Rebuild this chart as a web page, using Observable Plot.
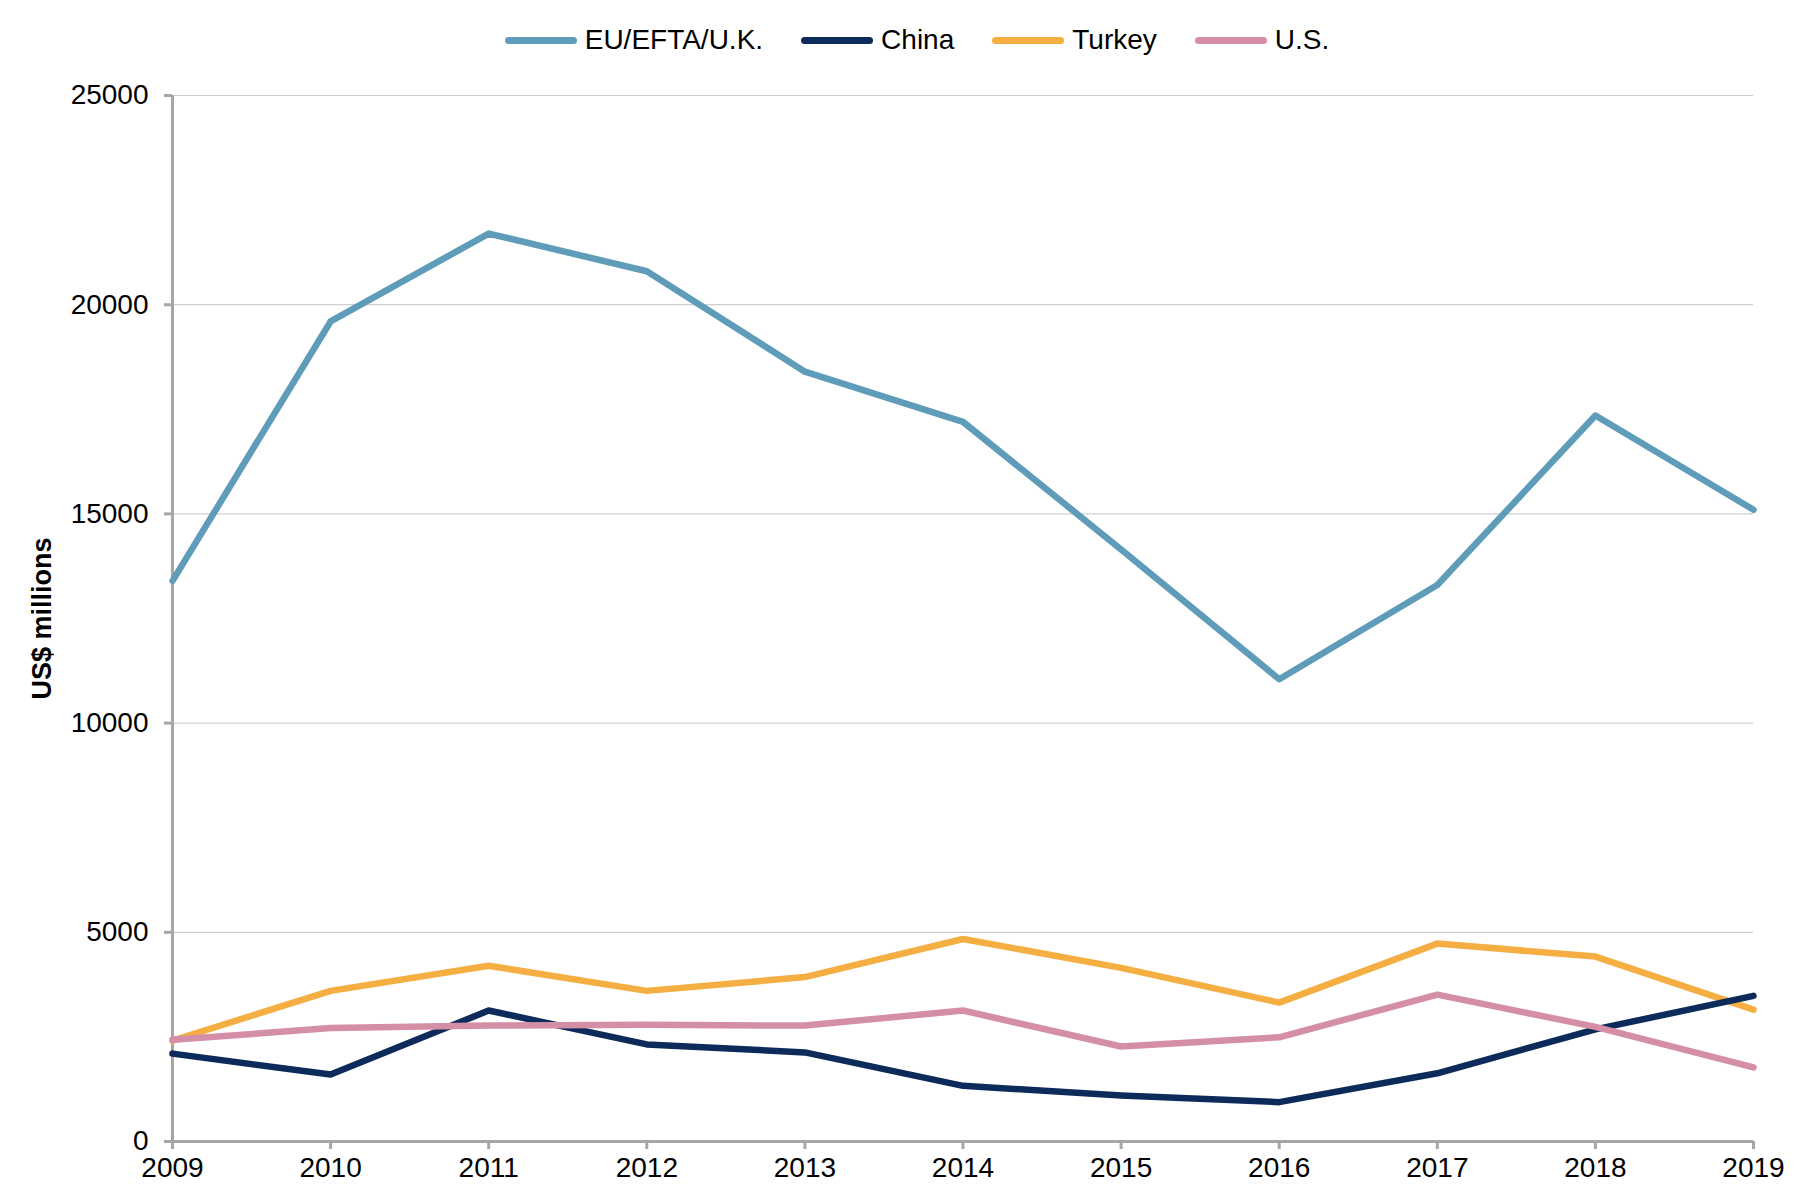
<!DOCTYPE html>
<html>
<head>
<meta charset="utf-8">
<script src="https://cdn.jsdelivr.net/npm/d3@7"></script>
<script src="https://cdn.jsdelivr.net/npm/@observablehq/plot@0.6"></script>
<style>
  html, body { margin: 0; padding: 0; background: #fff; }
  body { width: 1814px; font-family: "Liberation Sans", Arial, sans-serif; }
  #legend { height: 80px; display: flex; justify-content: center; align-items: center; padding-left: 20px; box-sizing: border-box; font-size: 28px; color: #000; }
  .item { display: flex; align-items: center; margin: 0 19px; }
  .sw { width: 72px; height: 7px; border-radius: 3.5px; margin-right: 8px; }
</style>
</head>
<body>
<div id="legend"></div>
<div id="chart"></div>
<script>
const years = [2009, 2010, 2011, 2012, 2013, 2014, 2015, 2016, 2017, 2018, 2019];
const euValues     = [13400, 19600, 21700, 20800, 18400, 17200, 14150, 11050, 13300, 17350, 15100];
const chinaValues  = [2100, 1600, 3130, 2320, 2130, 1330, 1100, 940, 1630, 2680, 3480];
const turkeyValues = [2410, 3600, 4200, 3600, 3930, 4840, 4150, 3320, 4730, 4420, 3150];
const usValues     = [2430, 2710, 2770, 2790, 2770, 3130, 2270, 2490, 3510, 2740, 1770];
const seriesNames  = ["EU/EFTA/U.K.", "China", "Turkey", "U.S."];
const seriesColors = ["#5e9cb9", "#0c2b5a", "#f5ae42", "#d48ea6"];
const yTicks = [0, 5000, 10000, 15000, 20000, 25000];
const yLabel = "US$ millions";

const valuesByName = {
  "EU/EFTA/U.K.": euValues,
  "China": chinaValues,
  "Turkey": turkeyValues,
  "U.S.": usValues
};
const drawOrder = ["EU/EFTA/U.K.", "Turkey", "China", "U.S."];
const table = drawOrder.flatMap(name => years.map((year, i) => ({series: name, year, value: valuesByName[name][i]})));

// legend
const legend = document.getElementById("legend");
seriesNames.forEach((name, i) => {
  const item = document.createElement("div");
  item.className = "item";
  const sw = document.createElement("div");
  sw.className = "sw";
  sw.style.background = seriesColors[i];
  const label = document.createElement("span");
  label.textContent = name;
  item.appendChild(sw);
  item.appendChild(label);
  legend.appendChild(item);
});

const chart = Plot.plot({
  width: 1814,
  height: 1116,
  marginLeft: 172,
  marginRight: 61,
  marginTop: 15,
  marginBottom: 55,
  style: {fontFamily: "Liberation Sans, Arial, sans-serif", fontSize: "28px", color: "#000", background: "#fff", overflow: "visible"},
  x: {domain: [2009, 2019]},
  y: {domain: [0, 25000]},
  color: {domain: seriesNames, range: seriesColors},
  marks: [
    Plot.gridY(yTicks, {stroke: "#cfcfcf", strokeOpacity: 1, strokeWidth: 1.2}),
    Plot.axisY(yTicks, {tickSize: 8, tickPadding: 16, stroke: "#a6a6a6", strokeWidth: 3, fontSize: 28, label: null, tickFormat: d => String(d)}),
    Plot.axisX(years, {tickSize: 8, tickPadding: 8, stroke: "#a6a6a6", strokeWidth: 3, fontSize: 28, label: null, tickFormat: d => String(d)}),
    Plot.ruleX([2009], {stroke: "#a6a6a6", strokeWidth: 3}),
    Plot.ruleY([0], {stroke: "#a6a6a6", strokeWidth: 3}),
    Plot.line(table, {x: "year", y: "value", z: "series", stroke: "series", strokeWidth: 6.5}),
    Plot.text([yLabel], {frameAnchor: "left", dx: -130, rotate: -90, textAnchor: "middle", lineAnchor: "middle", text: d => d, fontWeight: "bold", fontSize: 27, fill: "#000"})
  ]
});
document.getElementById("chart").appendChild(chart);
</script>
</body>
</html>
